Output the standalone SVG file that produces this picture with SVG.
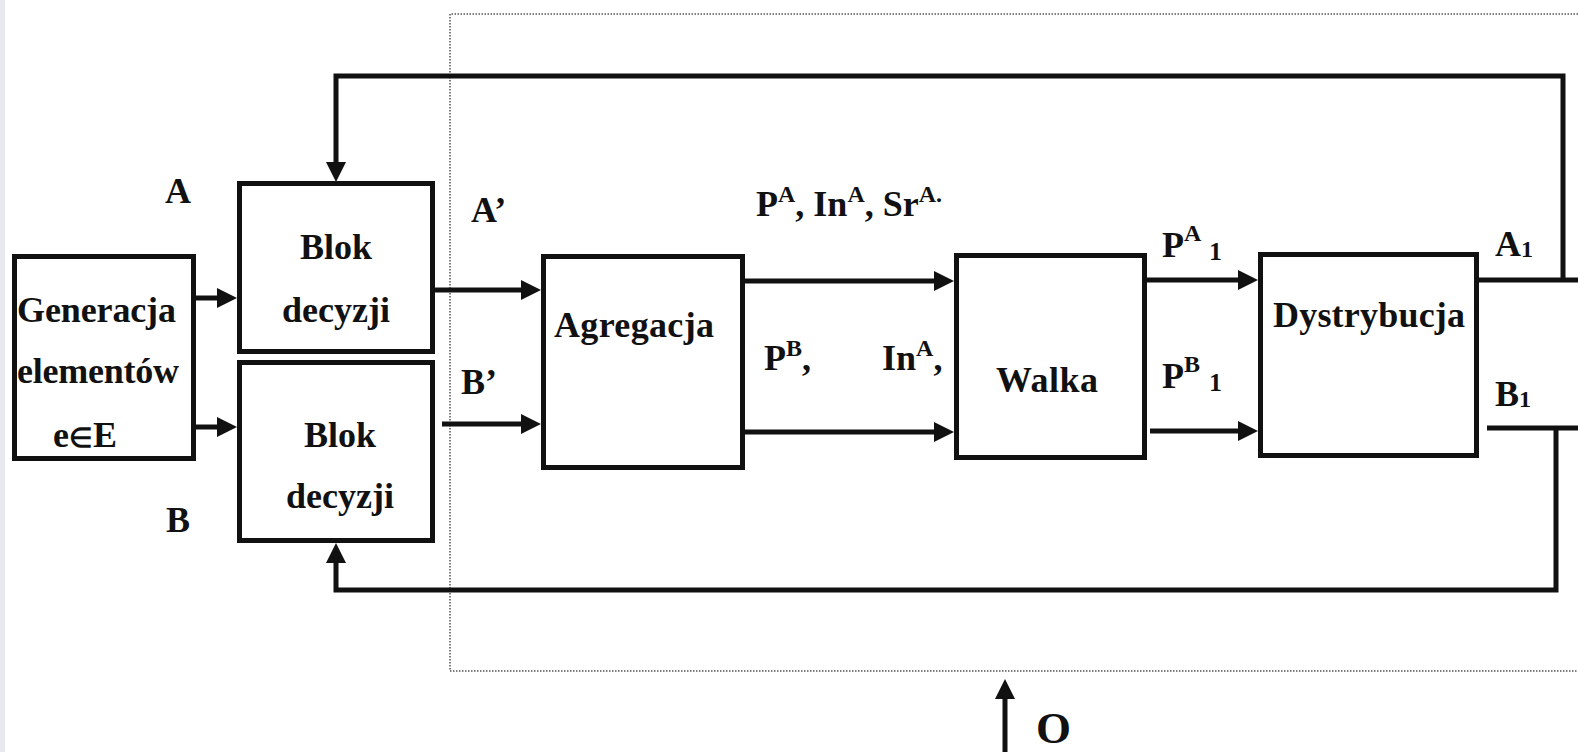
<svg xmlns="http://www.w3.org/2000/svg" width="1578" height="752" viewBox="0 0 1578 752">
<style>
.box{fill:#fff;stroke:#111;stroke-width:5}
.ln{fill:none;stroke:#111;stroke-width:5}
.t{font-family:"Liberation Serif","Times New Roman",serif;font-weight:bold;font-size:36px;fill:#111}
.mid{text-anchor:middle}
.sup{font-size:24px}
.sub{font-size:26px}
.big{font-size:45px}
</style>
<defs>
<marker id="ah" markerUnits="userSpaceOnUse" markerWidth="20" markerHeight="20" refX="0" refY="10" orient="auto">
<path d="M0,0 L20,10 L0,20 z" fill="#111"/>
</marker>
</defs>
<rect x="0" y="0" width="1578" height="752" fill="#fff"/>
<rect x="0" y="0" width="5" height="752" fill="#e6eaee"/>
<path d="M1578,14 H450 V671 H1578" fill="none" stroke="#555" stroke-width="1.5" stroke-dasharray="1.5 1.5"/>
<g id="connectors">
<path class="ln" d="M196,298 H217" marker-end="url(#ah)"/>
<path class="ln" d="M196,427 H217" marker-end="url(#ah)"/>
<path class="ln" d="M435,290 H521" marker-end="url(#ah)"/>
<path class="ln" d="M442,424 H521" marker-end="url(#ah)"/>
<path class="ln" d="M745,281 H934" marker-end="url(#ah)"/>
<path class="ln" d="M745,432 H934" marker-end="url(#ah)"/>
<path class="ln" d="M1147,280 H1238" marker-end="url(#ah)"/>
<path class="ln" d="M1150,431 H1238" marker-end="url(#ah)"/>
<path class="ln" d="M1479,280 H1578"/>
<path class="ln" d="M1563,280 V76 H336 V162" marker-end="url(#ah)"/>
<path class="ln" d="M1487,428 H1578"/>
<path class="ln" d="M1556,428 V590 H336 V563" marker-end="url(#ah)"/>
<path class="ln" d="M1005,752 V699" stroke-width="6" marker-end="url(#ah)"/>
</g>
<g id="gen">
<rect class="box" x="14.5" y="256.5" width="179" height="202"/>
<text class="t" x="17" y="322" textLength="159" lengthAdjust="spacing">Generacja</text>
<text class="t" x="17" y="383" textLength="162" lengthAdjust="spacing">elementów</text>
<text class="t" x="53" y="447">e<tspan style="font-size:27px">∈</tspan>E</text>
</g>
<g id="blokA">
<rect class="box" x="239.5" y="183.5" width="193" height="168"/>
<text class="t mid" x="336" y="259">Blok</text>
<text class="t mid" x="336" y="322">decyzji</text>
</g>
<g id="blokB">
<rect class="box" x="239.5" y="362.5" width="193" height="178"/>
<text class="t mid" x="340" y="447">Blok</text>
<text class="t mid" x="340" y="508">decyzji</text>
</g>
<g id="agr">
<rect class="box" x="543.5" y="256.5" width="199" height="211"/>
<text class="t" x="554" y="337" textLength="160" lengthAdjust="spacing">Agregacja</text>
</g>
<g id="walka">
<rect class="box" x="956.5" y="255.5" width="188" height="202"/>
<text class="t" x="996" y="392" textLength="102" lengthAdjust="spacing">Walka</text>
</g>
<g id="dyst">
<rect class="box" x="1260.5" y="254.5" width="216" height="201"/>
<text class="t" x="1273" y="327" textLength="192" lengthAdjust="spacing">Dystrybucja</text>
</g>
<g id="labels">
<text class="t mid" x="178" y="203">A</text>
<text class="t mid" x="178" y="532">B</text>
<text class="t" x="471" y="222">A’</text>
<text class="t" x="461" y="394">B’</text>
<text class="t" x="756" y="216">P<tspan class="sup" dy="-14">A</tspan><tspan dy="14">, In</tspan><tspan class="sup" dy="-14">A</tspan><tspan dy="14">, Sr</tspan><tspan class="sup" dy="-14">A.</tspan></text>
<text class="t" x="764" y="370">P<tspan class="sup" dy="-14">B</tspan><tspan dy="14">,</tspan></text>
<text class="t" x="882" y="370">In<tspan class="sup" dy="-14">A</tspan><tspan dy="14">,</tspan></text>
<text class="t" x="1162" y="257">P<tspan class="sup" dy="-16">A</tspan><tspan class="sub" x="1209" dy="19">1</tspan></text>
<text class="t" x="1162" y="388">P<tspan class="sup" dy="-16">B</tspan><tspan class="sub" x="1209" dy="19">1</tspan></text>
<text class="t" x="1495" y="256">A<tspan class="sup" dy="1">1</tspan></text>
<text class="t" x="1495" y="406">B<tspan class="sup" dy="1">1</tspan></text>
<text class="t big" x="1036" y="743">O</text>
</g>
</svg>
